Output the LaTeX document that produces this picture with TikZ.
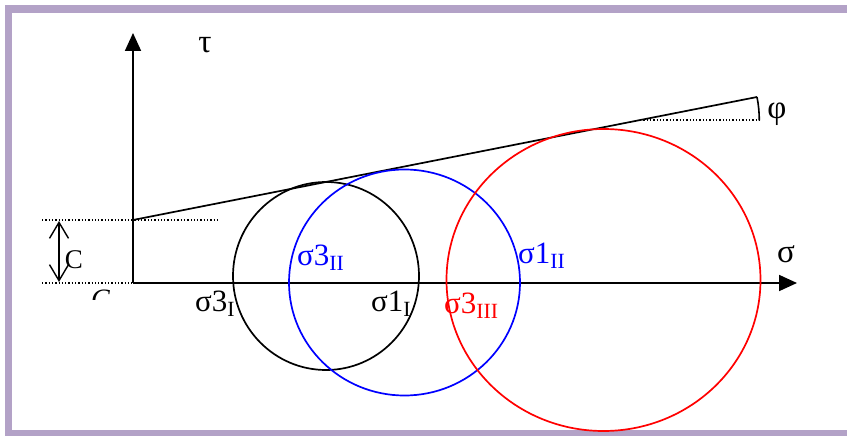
\documentclass[tikz,border=0pt]{standalone}
\usepackage{fontspec}
\setmainfont{Liberation Serif}
\usetikzlibrary{arrows.meta, positioning}
\definecolor{framelila}{RGB}{179,162,199}
\definecolor{mohrblue}{RGB}{0,0,255}
\definecolor{mohrred}{RGB}{255,0,0}
\tikzset{
  axis/.style={-{Triangle[length=18pt, width=16pt]}, line width=1.8pt},
  circ/.style={line width=1.7pt},
  dotline/.style={dotted, line width=1.3pt},
  lbl/.style={inner sep=0pt, anchor=base west, font=\fontsize{31}{31}\selectfont},
  sym/.style={inner sep=0pt, font=\fontsize{33}{33}\selectfont},
}

\begin{document}
\begin{tikzpicture}[x=1pt, y=-1pt]
  \useasboundingbox (0,0) rectangle (847,436);
  % frame
  \fill[framelila] (5,5) rectangle (847,436);
  \fill[white] (12,13) rectangle (847,430);

  \coordinate (O) at (133,283);
  \coordinate (tautip) at (133,33);
  \coordinate (sigtip) at (797,283);
  \coordinate (c0) at (133,220);
  \coordinate (lineend) at (757,97);
  \coordinate (phic) at (640,120);
  \coordinate (phiend) at (760,120);

  % axes
  \draw[axis] (O) -- (tautip);
  \draw[axis] (O) -- (sigtip);
  \node[sym] (tau) at (205,45) {τ};
  \node[sym] (sigma) at (786,254) {σ};

  % cohesion
  \draw[dotline] (42,220) -- (217,220);
  \draw[dotline] (42,283) -- (O);
  \draw[{Straight Barb[length=16pt, width=19pt]}-{Straight Barb[length=16pt, width=19pt]}, line width=1.4pt] (59,221) -- (59,282);
  \node[inner sep=0pt, font=\fontsize{27}{27}\selectfont] (cc) at (74,260) {C};
  \begin{scope}
    \clip (80,280) rectangle (120,299);
    \node[lbl, font=\fontsize{28}{28}\itshape] (ccut) at (91,308) {C};
  \end{scope}

  % failure envelope
  \draw[line width=1.7pt] (c0) -- (lineend);
  \draw[dotline] (phic) -- (phiend);
  \draw[line width=1.6pt] (lineend) arc[start angle=-11.2, end angle=0, radius=120];
  \node[sym] (phi) at (777,114) {φ};

  % Mohr circles
  \draw[circ, black] (326,276) ellipse[x radius=93, y radius=94];
  \draw[circ, mohrblue] (404.5,282.5) ellipse[x radius=115.5, y radius=113];
  \draw[circ, mohrred] (603.5,280) ellipse[x radius=157, y radius=151];

  % stresses
  \node[lbl] (s3a) at (195,311) {σ3\textsubscript{I}};
  \node[lbl] (s1a) at (371,311) {σ1\textsubscript{I}};
  \node[lbl, mohrblue] (s3b) at (297,265) {σ3\textsubscript{II}};
  \node[lbl, mohrblue] (s1b) at (518,263) {σ1\textsubscript{II}};
  \node[lbl, mohrred] (s3c) at (444,313) {σ3\textsubscript{III}};
\end{tikzpicture}
\end{document}
